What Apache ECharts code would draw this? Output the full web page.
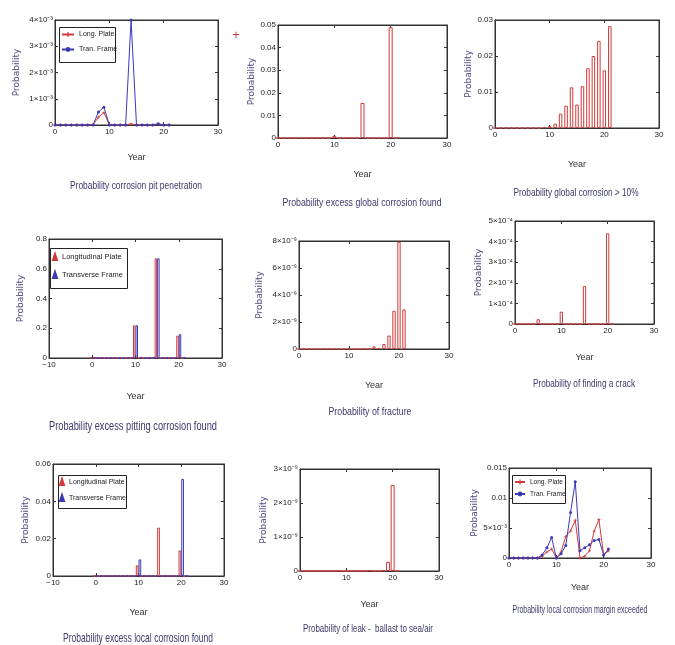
<!DOCTYPE html>
<html>
<head>
<meta charset="utf-8">
<script src="https://cdn.jsdelivr.net/npm/echarts@6/dist/echarts.min.js"></script>
<style>
  html, body { margin: 0; padding: 0; background: #fff; }
  #main { width: 675px; height: 645px; }
</style>
</head>
<body>
<div id="main"></div>
<script>
// years 0..21 shared by every panel
const years = [0, 1, 2, 3, 4, 5, 6, 7, 8, 9, 10, 11, 12, 13, 14, 15, 16, 17, 18, 19, 20, 21];

// corrosion pit penetration
const pitLong = [0, 0, 0, 0, 0, 0, 0, 0.00001, 0.0003, 0.00047, 0.00002, 0, 0, 0, 0.00004, 0, 0, 0, 0, 0.00003, 0, 0];
const pitTran = [0, 0, 0, 0, 0, 0, 0, 0, 0.0005, 0.00068, 0, 0, 0, 0, 0.004, 0, 0, 0, 0, 0.00005, 0, 0];
// excess global corrosion found
const globalFound = [0, 0, 0, 0, 0, 0, 0, 0, 0, 0, 0.001, 0, 0, 0, 0, 0.0155, 0, 0, 0, 0, 0.049, 0];
// global corrosion > 10%
const global10 = [0, 0, 0, 0, 0, 0, 0, 0, 0, 0.0003, 0.0005, 0.0012, 0.004, 0.0062, 0.0113, 0.0065, 0.0116, 0.0166, 0.02, 0.0242, 0.016, 0.0283];
// excess pitting corrosion found
const pittingLong = [0, 0, 0, 0, 0, 0, 0, 0, 0, 0, 0.22, 0, 0, 0, 0, 0.67, 0, 0, 0, 0, 0.15, 0];
const pittingTran = [0, 0, 0, 0, 0, 0, 0, 0, 0, 0, 0.22, 0, 0, 0, 0, 0.67, 0, 0, 0, 0, 0.16, 0];
// fracture
const fracture = [0, 0, 0, 0, 0, 0, 0, 0, 0, 0, 0, 0, 0, 0, 0, 0.2e-9, 0.07e-9, 0.37e-9, 1.0e-9, 2.83e-9, 7.95e-9, 2.93e-9];
// finding a crack
const crack = [0, 0, 0, 0, 0, 0.23e-4, 0, 0, 0, 0, 0.6e-4, 0, 0, 0, 0, 1.84e-4, 0, 0, 0, 0, 4.4e-4, 0];
// excess local corrosion found
const localLong = [0, 0, 0, 0, 0, 0, 0, 0, 0, 0, 0.0057, 0, 0, 0, 0, 0.0259, 0, 0, 0, 0, 0.0137, 0];
const localTran = [0, 0, 0, 0, 0, 0, 0, 0, 0, 0, 0.0089, 0, 0, 0, 0, 0, 0, 0, 0, 0, 0.052, 0];
// leak ballast to sea/air
const leak = [0, 0, 0, 0, 0, 0, 0, 0, 0, 0, 0, 0, 0, 0, 0, 0.02e-9, 0, 0, 0.02e-9, 0.27e-9, 2.53e-9, 0];
// local corrosion margin exceeded
const marginLong = [0, 0, 0, 0, 0, 0, 0, 0.0003, 0.001, 0.0015, 0, 0.001, 0.0036, 0.0045, 0.0063, 0, 0.0003, 0.0012, 0.0045, 0.0064, 0.0005, 0.0012];
const marginTran = [0, 0, 0, 0, 0, 0, 0, 0.0005, 0.0017, 0.0034, 0, 0.0007, 0.0021, 0.0076, 0.0127, 0.0012, 0.0017, 0.0022, 0.0029, 0.0031, 0.0005, 0.0015];

// tick labels
const xTicks = ['0', '10', '20', '30'];
const xTicksWide = ['\u221210', '0', '10', '20', '30'];
const pitTicks = ['0', '1\u00d710\u207b\u00b3', '2\u00d710\u207b\u00b3', '3\u00d710\u207b\u00b3', '4\u00d710\u207b\u00b3'];
const globalFoundTicks = ['0', '0.01', '0.02', '0.03', '0.04', '0.05'];
const global10Ticks = ['0', '0.01', '0.02', '0.03'];
const pittingTicks = ['0', '0.2', '0.4', '0.6', '0.8'];
const fractureTicks = ['0', '2\u00d710\u207b\u2079', '4\u00d710\u207b\u2079', '6\u00d710\u207b\u2079', '8\u00d710\u207b\u2079'];
const crackTicks = ['0', '1\u00d710\u207b\u2074', '2\u00d710\u207b\u2074', '3\u00d710\u207b\u2074', '4\u00d710\u207b\u2074', '5\u00d710\u207b\u2074'];
const localTicks = ['0', '0.02', '0.04', '0.06'];
const leakTicks = ['0', '1\u00d710\u207b\u2079', '2\u00d710\u207b\u2079', '3\u00d710\u207b\u2079'];
const marginTicks = ['0', '5\u00d710\u207b\u00b3', '0.01', '0.015'];

const RED = '#d03a3a';
const BLUE = '#3a3ab8';
const FONT = '"Liberation Sans", Arial, sans-serif';
const LABEL = '#4c4c80';
const TITLE = '#3a3a6c';
const PLUS = 'path://M3,0H5V3H8V5H5V8H3V5H0V3H3Z';

let grids = [], xAxes = [], yAxes = [], series = [], graphics = [], legends = [];

// squeeze a caption horizontally so it spans the given width (the source uses a condensed face)
let measure = document.createElement('canvas').getContext('2d');
function squeeze(text, size, width) {
  measure.font = size + 'px "Liberation Sans", Arial, sans-serif';
  return Math.min(1, width / measure.measureText(text).width);
}

function pairs(vals) {
  return years.map((y, i) => [y, vals[i]]);
}

function addPanel(p) {
  let i = grids.length;
  grids.push({
    left: p.box[0], top: p.box[1], width: p.box[2], height: p.box[3],
    show: true, borderColor: '#333', borderWidth: 1, backgroundColor: '#fff'
  });
  let xt = p.xTicks;
  let xMin = p.xMin;
  let axisBase = {
    axisLine: { show: true, onZero: false, lineStyle: { color: '#333' } },
    axisTick: { inside: true, length: 3, lineStyle: { color: '#333' } },
    splitLine: { show: false }
  };
  xAxes.push(Object.assign({}, axisBase, {
    gridIndex: i, type: 'value', min: xMin, max: 30, interval: 10,
    name: 'Year', nameLocation: 'middle', nameGap: p.yearGap,
    nameTextStyle: { fontFamily: FONT, fontSize: 9, color: '#333' },
    axisLabel: {
      fontFamily: FONT, fontSize: 8, color: '#222', margin: 3,
      formatter: v => xt[Math.round((v - xMin) / 10)]
    }
  }));
  xAxes.push(Object.assign({}, axisBase, {
    gridIndex: i, type: 'value', min: xMin, max: 30, interval: 10, position: 'top',
    axisLabel: { show: false }
  }));
  let yt = p.yTicks, step = p.yStep;
  yAxes.push(Object.assign({}, axisBase, {
    gridIndex: i, type: 'value', min: 0, max: step * (yt.length - 1), interval: step,
    name: 'Probability', nameLocation: 'middle', nameRotate: 90, nameGap: p.probGap,
    nameTextStyle: { fontFamily: 'DejaVu Sans', fontSize: 9, color: LABEL },
    axisLabel: {
      fontFamily: FONT, fontSize: 8, color: '#222', margin: 2,
      formatter: v => yt[Math.round(v / step)]
    }
  }));
  yAxes.push(Object.assign({}, axisBase, {
    gridIndex: i, type: 'value', min: 0, max: step * (yt.length - 1), interval: step, position: 'right',
    axisLabel: { show: false }
  }));
  let size = p.titleSize || 11;
  graphics.push({
    type: 'text', x: p.titlePos[0], y: p.titlePos[1],
    scaleX: squeeze(p.title, size, p.titleWidth),
    style: { text: p.title, align: 'center', verticalAlign: 'middle', fill: TITLE, font: size + 'px ' + FONT }
  });
  p.series.forEach(s => {
    let base = { xAxisIndex: 2 * i, yAxisIndex: 2 * i, name: s.name, data: pairs(s.data), animation: false };
    if (s.type === 'line') {
      series.push(Object.assign(base, {
        type: 'line', symbol: s.symbol, symbolSize: 3, showSymbol: true,
        lineStyle: { color: s.color, width: 1 },
        itemStyle: { color: s.color }
      }));
    } else {
      series.push(Object.assign(base, {
        type: 'bar', barWidth: s.width, barGap: '0%', clip: false,
        itemStyle: { color: '#fff', borderColor: s.color, borderWidth: 1 }
      }));
    }
  });
  if (p.legend) {
    let lg = p.legend;
    // framed box drawn separately so its size matches the source
    graphics.push({
      type: 'rect', z: 1, shape: { x: lg.box[0] + 0.5, y: lg.box[1] + 0.5, width: lg.box[2], height: lg.box[3] },
      style: { fill: '#fff', stroke: '#222', lineWidth: 1 }
    });
    legends.push({
      left: lg.pos[0], top: lg.pos[1], orient: 'vertical', z: 5,
      padding: 0, itemGap: lg.gap,
      icon: lg.icon, itemWidth: lg.iconW, itemHeight: 6,
      textStyle: { fontFamily: FONT, fontSize: lg.fontSize, color: '#222' },
      data: p.series.map(s => ({ name: s.name, itemStyle: { color: s.color } }))
    });
  }
}

addPanel({
  box: [55, 20, 163, 105], xMin: 0, xTicks: xTicks, yStep: 0.001, yTicks: pitTicks,
  yearGap: 28, probGap: 34,
  title: 'Probability corrosion pit penetration', titlePos: [136, 186], titleWidth: 132,
  series: [
    { type: 'line', name: 'Long. Plate', data: pitLong, color: RED, symbol: PLUS },
    { type: 'line', name: 'Tran. Frame', data: pitTran, color: BLUE, symbol: 'circle' }
  ],
  legend: { box: [59, 27, 56, 35], pos: [61, 31], iconW: 12, fontSize: 7, gap: 8 }
});
addPanel({
  box: [278, 25, 169, 113], xMin: 0, xTicks: xTicks, yStep: 0.01, yTicks: globalFoundTicks,
  yearGap: 32, probGap: 20,
  title: 'Probability excess global corrosion found', titlePos: [362, 203], titleWidth: 159,
  series: [{ type: 'bar', name: 'global', data: globalFound, color: RED, width: 4 }]
});
addPanel({
  box: [495, 20, 164, 108], xMin: 0, xTicks: xTicks, yStep: 0.01, yTicks: global10Ticks,
  yearGap: 32, probGap: 20,
  title: 'Probability global corrosion > 10%', titlePos: [576, 193], titleWidth: 125,
  series: [{ type: 'bar', name: 'global10', data: global10, color: RED, width: 3.5 }]
});
addPanel({
  box: [49, 239, 173, 119], xMin: -10, xTicks: xTicksWide, yStep: 0.2, yTicks: pittingTicks,
  yearGap: 34, probGap: 24,
  title: 'Probability excess pitting corrosion found', titlePos: [133, 426], titleWidth: 168, titleSize: 13,
  series: [
    { type: 'bar', name: 'Longitudinal Plate', data: pittingLong, color: RED, width: 2.5 },
    { type: 'bar', name: 'Transverse Frame', data: pittingTran, color: BLUE, width: 2.5 }
  ],
  legend: { box: [50, 248, 77, 40], pos: [52, 253], icon: 'triangle', iconW: 4, fontSize: 7.5, gap: 10 }
});
addPanel({
  box: [299, 241, 150, 108], xMin: 0, xTicks: xTicks, yStep: 2e-9, yTicks: fractureTicks,
  yearGap: 32, probGap: 35,
  title: 'Probability of fracture', titlePos: [370, 412], titleWidth: 83,
  series: [{ type: 'bar', name: 'fracture', data: fracture, color: RED, width: 3.3 }]
});
addPanel({
  box: [515, 221, 139, 103], xMin: 0, xTicks: xTicks, yStep: 1e-4, yTicks: crackTicks,
  yearGap: 29, probGap: 32,
  title: 'Probability of finding a crack', titlePos: [584, 384], titleWidth: 102,
  series: [{ type: 'bar', name: 'crack', data: crack, color: RED, width: 3.3 }]
});
addPanel({
  box: [53, 464, 171, 112], xMin: -10, xTicks: xTicksWide, yStep: 0.02, yTicks: localTicks,
  yearGap: 32, probGap: 23,
  title: 'Probability excess local corrosion found', titlePos: [138, 638], titleWidth: 150, titleSize: 13,
  series: [
    { type: 'bar', name: 'Longitudinal Plate', data: localLong, color: RED, width: 2.7 },
    { type: 'bar', name: 'Transverse Frame', data: localTran, color: BLUE, width: 2.7 }
  ],
  legend: { box: [58, 475, 68, 33], pos: [59, 478], icon: 'triangle', iconW: 4, fontSize: 7, gap: 8 }
});
addPanel({
  box: [300, 469, 139, 102], xMin: 0, xTicks: xTicks, yStep: 1e-9, yTicks: leakTicks,
  yearGap: 29, probGap: 32,
  title: 'Probability of leak -  ballast to sea/air', titlePos: [368, 629], titleWidth: 130,
  series: [{ type: 'bar', name: 'leak', data: leak, color: RED, width: 4 }]
});
addPanel({
  box: [509, 468, 142, 90], xMin: 0, xTicks: xTicks, yStep: 0.005, yTicks: marginTicks,
  yearGap: 25, probGap: 29,
  title: 'Probability local corrosion margin exceeded', titlePos: [580, 610], titleWidth: 135,
  series: [
    { type: 'line', name: 'Long. Plate', data: marginLong, color: RED, symbol: PLUS },
    { type: 'line', name: 'Tran. Frame', data: marginTran, color: BLUE, symbol: 'circle' }
  ],
  legend: { box: [512, 475, 53, 28], pos: [514, 478.5], iconW: 10, fontSize: 6.5, gap: 5 }
});

// stray marker left of the second panel in the source
graphics.push({ type: 'text', x: 236, y: 35, style: { text: '+', align: 'center', verticalAlign: 'middle', fill: RED, font: '13px ' + FONT } });

let myChart = echarts.init(document.getElementById('main'));
myChart.setOption({
  animation: false,
  backgroundColor: '#fff',
  grid: grids,
  xAxis: xAxes,
  yAxis: yAxes,
  legend: legends,
  graphic: graphics,
  series: series
});
</script>
</body>
</html>
